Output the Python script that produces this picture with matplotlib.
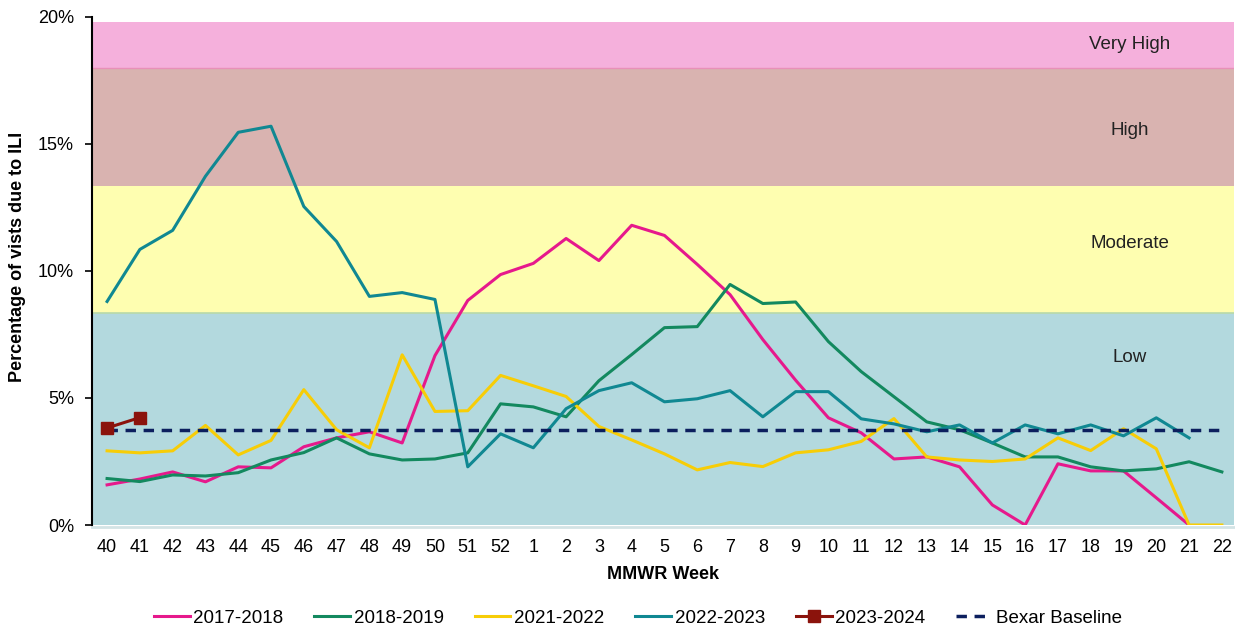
import numpy as np
import matplotlib.pyplot as plt

plt.rcParams["font.family"] = ["Liberation Sans", "DejaVu Sans"]

## MMWR weeks on the x axis (categorical)
weeks = [40, 41, 42, 43, 44, 45, 46, 47, 48, 49, 50, 51, 52,
         1, 2, 3, 4, 5, 6, 7, 8, 9, 10, 11, 12, 13, 14, 15, 16, 17, 18, 19, 20, 21, 22]

## percentage of visits due to ILI, per season (None = no data)
s2017_2018 = [1.58, 1.81, 2.09, 1.70, 2.29, 2.25, 3.08, 3.43, 3.67, 3.23, 6.67, 8.84, 9.86,
              10.30, 11.28, 10.41, 11.80, 11.40, 10.26, 9.07, 7.30, 5.70, 4.22, 3.63, 2.60,
              2.68, 2.29, 0.79, 0.0, 2.41, 2.13, 2.13, 1.07, 0.0, None]
s2018_2019 = [1.83, 1.71, 1.97, 1.93, 2.06, 2.56, 2.85, 3.43, 2.80, 2.56, 2.60, 2.84, 4.77,
              4.65, 4.26, 5.68, 6.71, 7.77, 7.81, 9.47, 8.72, 8.78, 7.22, 6.04, 5.05,
              4.06, 3.75, 3.23, 2.68, 2.68, 2.29, 2.13, 2.21, 2.49, 2.09]
s2021_2022 = [2.92, 2.84, 2.92, 3.92, 2.76, 3.33, 5.33, 3.75, 3.04, 6.70, 4.47, 4.50, 5.89,
              5.48, 5.06, 3.88, 3.35, 2.80, 2.17, 2.46, 2.30, 2.84, 2.96, 3.29, 4.19,
              2.68, 2.56, 2.50, 2.60, 3.43, 2.93, 3.79, 3.00, 0.0, 0.0]
s2022_2023 = [8.80, 10.85, 11.60, 13.73, 15.46, 15.70, 12.54, 11.16, 9.00, 9.15, 8.88, 2.29, 3.59,
              3.04, 4.58, 5.29, 5.60, 4.85, 4.97, 5.29, 4.26, 5.25, 5.25, 4.18, 3.98,
              3.67, 3.94, 3.23, 3.94, 3.59, 3.94, 3.51, 4.22, 3.43, None]
s2023_2024 = [3.82, 4.23]
baseline = 3.73

## activity level bands (lower, upper) and labels
band_names = ["Low", "Moderate", "High", "Very High"]
band_edges = [0.0, 8.35, 13.35, 18.0, 19.8]
band_colors = ["#b3d9de", "#fefeb0", "#d9b3b0", "#f5b0dc"]


def arr(v):
    return np.array([np.nan if x is None else x for x in v], dtype=float)


fig = plt.figure(figsize=(12.35, 6.28), dpi=100)
ax = fig.add_axes([92 / 1235, 1 - 525 / 628, 1142 / 1235, 508 / 628])

xi = np.arange(len(weeks))

## background bands
for i, name in enumerate(band_names):
    ax.axhspan(band_edges[i], band_edges[i + 1], color=band_colors[i], lw=0, zorder=0)
ax.axhline(band_edges[1], color="#b8d9a8", lw=1.2, zorder=0.5)
ax.axhline(band_edges[3], color="#e890b8", lw=1.0, zorder=0.5)
ax.axhline(-0.06, color="#d3e3e5", lw=2.0, zorder=0.5, clip_on=False)
label_y = [6.6, 11.1, 15.55, 18.9]
for name, yy in zip(band_names, label_y):
    ax.text(31.2, yy, name, ha="center", va="center", fontsize=13.5, color="#222222", zorder=1)

lw = 2.2
ax.plot(xi, arr(s2017_2018), color="#e6198c", lw=lw, label="2017-2018", zorder=3)
ax.plot(xi, arr(s2018_2019), color="#13895f", lw=lw, label="2018-2019", zorder=3)
ax.plot(xi, arr(s2021_2022), color="#f7cd07", lw=lw, label="2021-2022", zorder=3)
ax.plot(xi, arr(s2022_2023), color="#108892", lw=lw, label="2022-2023", zorder=3)
ax.plot(xi[:len(s2023_2024)], s2023_2024, color="#8b130c", lw=lw, marker="s", ms=8,
        label="2023-2024", zorder=5)
ax.plot(xi, np.full(len(weeks), baseline), color="#0c1f5e", lw=2.5, ls=(0, (3, 2.2)),
        label="Bexar Baseline", zorder=4)

ax.set_xlim(-0.46, 34.37)
ax.set_ylim(0, 20)
ax.set_xticks(xi)
ax.set_xticklabels([str(w) for w in weeks], fontsize=13)
ax.set_yticks([0, 5, 10, 15, 20])
ax.set_yticklabels(["0%", "5%", "10%", "15%", "20%"], fontsize=13)
ax.tick_params(axis="x", length=0, pad=10)
ax.tick_params(axis="y", length=5, width=1.2, direction="out", pad=8)

for s in ["top", "right", "bottom"]:
    ax.spines[s].set_visible(False)
ax.spines["left"].set_linewidth(1.5)

ax.set_xlabel("MMWR Week", fontsize=13, fontweight="bold")
ax.xaxis.set_label_coords(0.5, -0.081)
ax.set_ylabel("Percentage of vists due to ILI", fontsize=13, fontweight="bold")
ax.yaxis.set_label_coords(-0.058, 0.528)

ax.legend(loc="center", bbox_to_anchor=(0.478, -0.183), ncol=6, frameon=False, fontsize=13.5,
          handlelength=1.9, columnspacing=1.65, handletextpad=0.2)

fig.savefig("out.png", dpi=100)
